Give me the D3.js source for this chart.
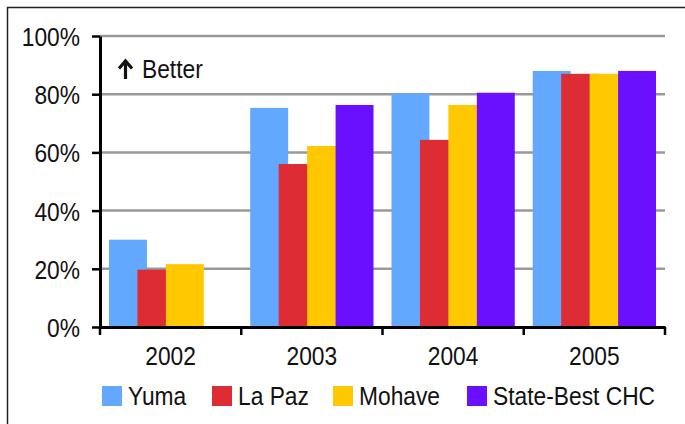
<!DOCTYPE html>
<html>
<head>
<meta charset="utf-8">
<script src="https://cdn.jsdelivr.net/npm/d3@7"></script>
<style>
body { margin: 0; background: #fff; }
text { font-family: "Liberation Sans", Arial, sans-serif; }
</style>
</head>
<body>
<div id="chart"></div>
<script>
let years = ['2002', '2003', '2004', '2005']
let series = ['Yuma', 'La Paz', 'Mohave', 'State-Best CHC']
let colors = ['#63A8FF', '#DD2C33', '#FFC800', '#6A10FF']

let yuma = [30, 75.3, 80.3, 88]
let laPaz = [19.7, 56, 64.3, 87]
let mohave = [21.6, 62.2, 76.3, 87]
let stateBest = [null, 76.3, 80.5, 88]

let yTicks = [0, 20, 40, 60, 80, 100]

let allValues = [yuma, laPaz, mohave, stateBest]

let width = 685
let height = 424
let plotLeft = 100, plotRight = 665, plotTop = 36, plotBottom = 327

// condensed look: squeeze Liberation Sans horizontally
let squeeze = 0.86
let fontSize = 26.5

const svg = d3.select('#chart')
	.append('svg')
	.attr('width', width)
	.attr('height', height)

// frame
svg.append('rect')
	.attr('x', 7.5).attr('y', 7.5)
	.attr('width', 700).attr('height', 500)
	.attr('fill', 'none')
	.attr('stroke', '#222')
	.attr('stroke-width', 1.5)

let xScale = d3.scaleBand()
	.domain(years)
	.range([plotLeft, plotRight])

let yScale = d3.scaleLinear()
	.domain([0, 100])
	.range([plotBottom, plotTop])

let band = xScale.bandwidth()
let barW = band * 38 / 141.5
let inner = d3.scalePoint()
	.domain(series)
	.range([band * 9 / 141.5, band * 94.5 / 141.5])

// gridlines
svg.selectAll('.grid')
	.data(yTicks.filter(d => d > 0))
	.enter()
	.append('line')
	.attr('x1', plotLeft).attr('x2', plotRight)
	.attr('y1', d => yScale(d)).attr('y2', d => yScale(d))
	.attr('stroke', '#999')
	.attr('stroke-width', 2.5)

// bars
series.forEach(function(s, i){
	svg.selectAll('.bar' + i)
		.data(years.map((y, j) => ({year: y, value: allValues[i][j]})).filter(d => d.value != null))
		.enter()
		.append('rect')
		.attr('x', d => xScale(d.year) + inner(s))
		.attr('y', d => yScale(d.value))
		.attr('width', barW)
		.attr('height', d => yScale(0) - yScale(d.value))
		.attr('fill', colors[i])
})

// y axis
let yG = svg.append('g')
	.attr('transform', `translate(${plotLeft},0)`)
	.call(d3.axisLeft(yScale).tickValues(yTicks).tickFormat(d => d + '%').tickSize(8).tickSizeOuter(0))
yG.select('.domain').attr('stroke', '#000').attr('stroke-width', 3)
yG.selectAll('line').attr('stroke', '#000').attr('stroke-width', 2.5)
yG.selectAll('text')
	.attr('font-size', fontSize).attr('fill', '#111')
	.attr('transform', `scale(${squeeze},1)`)
	.attr('x', -20 / squeeze).attr('dy', '0.36em')

// x axis
let xG = svg.append('g')
	.attr('transform', `translate(0,${plotBottom})`)
	.call(d3.axisBottom(xScale).tickSize(0).tickSizeOuter(0))
xG.select('.domain').attr('stroke', '#000').attr('stroke-width', 3)
xG.selectAll('text')
	.attr('font-size', fontSize).attr('fill', '#111')
	.attr('transform', `scale(${squeeze},1)`)
	.attr('y', 38).attr('dy', null)

svg.selectAll('.xtick')
	.data(years.map(d => xScale(d)).concat([plotRight]))
	.enter()
	.append('line')
	.attr('x1', d => d).attr('x2', d => d)
	.attr('y1', plotBottom).attr('y2', plotBottom + 8)
	.attr('stroke', '#000')
	.attr('stroke-width', 2.5)

// better note
svg.append('path')
	.attr('d', 'M125.5,79 V61.5 M119,68.5 L125.5,61 L132,68.5')
	.attr('fill', 'none')
	.attr('stroke', '#111')
	.attr('stroke-width', 3.2)
svg.append('text')
	.attr('transform', `translate(142,78) scale(${squeeze},1)`)
	.attr('font-size', fontSize)
	.attr('fill', '#111')
	.text('Better')

// legend
let legendX = [102, 212, 333, 467]
let leg = svg.selectAll('.legend')
	.data(series)
	.enter()
	.append('g')
	.attr('transform', (d, i) => `translate(${legendX[i]},386)`)
leg.append('rect')
	.attr('width', 20).attr('height', 20)
	.attr('fill', (d, i) => colors[i])
leg.append('text')
	.attr('transform', `translate(26,19) scale(${squeeze},1)`)
	.attr('font-size', fontSize)
	.attr('fill', '#111')
	.text(d => d)
</script>
</body>
</html>
